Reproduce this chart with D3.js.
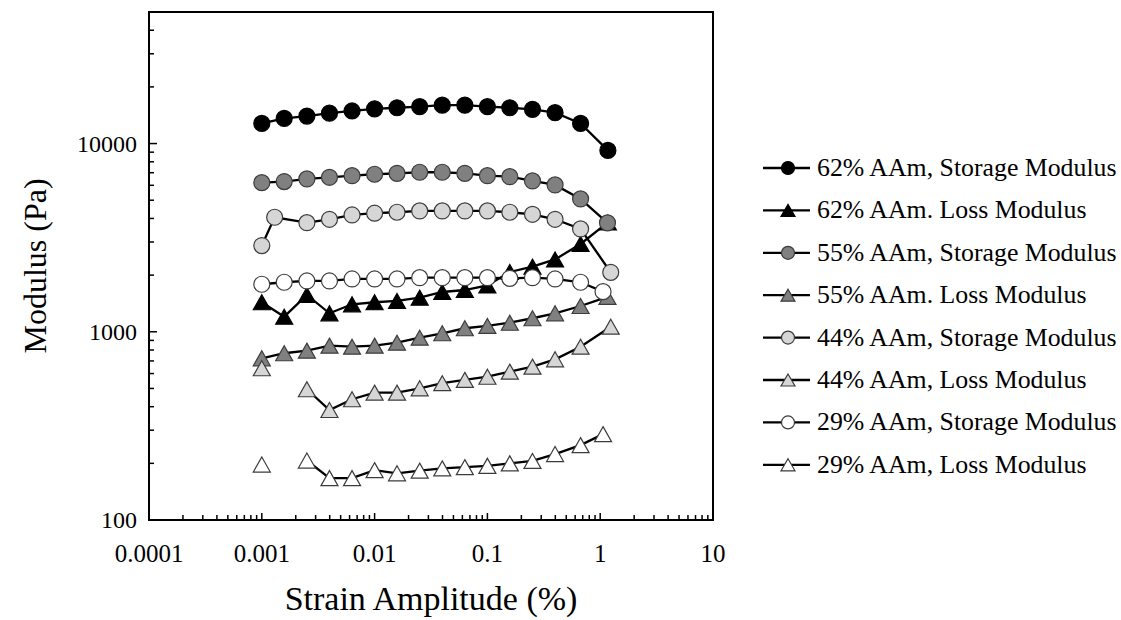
<!DOCTYPE html>
<html>
<head>
<meta charset="utf-8">
<script src="https://cdn.jsdelivr.net/npm/d3@7/dist/d3.min.js"></script>
<style>
  body { margin: 0; background: #fff; }
  svg text { font-family: "Liberation Serif", "Times New Roman", "DejaVu Serif", serif; fill: #000; }
</style>
</head>
<body>
<svg id="chart" width="1121" height="620"></svg>
<script>
// strain amplitude (%) for each gel
var strain62 = [0.001, 0.00158, 0.00251, 0.00398, 0.00631, 0.01, 0.0158, 0.0251, 0.0398, 0.0631, 0.1, 0.158, 0.251, 0.398, 0.67, 1.17];
var strain55 = [0.001, 0.00158, 0.00251, 0.00398, 0.00631, 0.01, 0.0158, 0.0251, 0.0398, 0.0631, 0.1, 0.158, 0.251, 0.398, 0.67, 1.16];
var strain44 = [0.001, 0.0013, 0.00251, 0.00398, 0.00631, 0.01, 0.0158, 0.0251, 0.0398, 0.0631, 0.1, 0.158, 0.251, 0.398, 0.67, 1.24];
var strain29 = [0.001, 0.00158, 0.00251, 0.00398, 0.00631, 0.01, 0.0158, 0.0251, 0.0398, 0.0631, 0.1, 0.158, 0.251, 0.398, 0.67, 1.06];

// moduli (Pa); null = missing reading
var storage62 = [12800, 13600, 14000, 14500, 14900, 15300, 15500, 15700, 16000, 16000, 15700, 15500, 15200, 14600, 12800, 9200];
var loss62 = [1435, 1203, 1569, 1254, 1400, 1435, 1458, 1518, 1627, 1667, 1762, 2078, 2218, 2423, 2928, 3809];
var storage55 = [6200, 6280, 6490, 6620, 6750, 6870, 6950, 7040, 7040, 6950, 6750, 6670, 6330, 6030, 5080, 3790];
var loss55 = [723, 769, 794, 844, 833, 844, 875, 930, 982, 1044, 1074, 1117, 1180, 1254, 1371, 1531];
var storage44 = [2870, 4060, 3800, 3960, 4175, 4265, 4315, 4385, 4385, 4385, 4385, 4315, 4210, 3960, 3520, 2070];
var loss44 = [640, null, 495, 384, 438, 475, 475, 501, 533, 555, 577, 614, 653, 714, 833, 1064];
var storage29 = [1789, 1833, 1862, 1862, 1908, 1908, 1908, 1939, 1939, 1939, 1939, 1923, 1939, 1908, 1833, 1634];
var loss29 = [197, null, 207, 167, 167, 184, 177, 183, 188, 191, 194, 200, 206, 224, 250, 286];

var seriesNames = [
  '62% AAm, Storage Modulus', '62% AAm. Loss Modulus',
  '55% AAm, Storage Modulus', '55% AAm. Loss Modulus',
  '44% AAm, Storage Modulus', '44% AAm, Loss Modulus',
  '29% AAm, Storage Modulus', '29% AAm, Loss Modulus'
];
var xTickLabels = ['0.0001', '0.001', '0.01', '0.1', '1', '10'];
var yTickLabels = ['100', '1000', '10000'];

(function() {
  var series = [
    {name: seriesNames[0], x: strain62, y: storage62, shape: 'circle', fill: '#000', stroke: '#000'},
    {name: seriesNames[1], x: strain62, y: loss62, shape: 'triangle', fill: '#000', stroke: '#000'},
    {name: seriesNames[2], x: strain55, y: storage55, shape: 'circle', fill: '#808080', stroke: '#3c3c3c'},
    {name: seriesNames[3], x: strain55, y: loss55, shape: 'triangle', fill: '#808080', stroke: '#3c3c3c'},
    {name: seriesNames[4], x: strain44, y: storage44, shape: 'circle', fill: '#d6d6d6', stroke: '#3c3c3c'},
    {name: seriesNames[5], x: strain44, y: loss44, shape: 'triangle', fill: '#d6d6d6', stroke: '#3c3c3c'},
    {name: seriesNames[6], x: strain29, y: storage29, shape: 'circle', fill: '#fff', stroke: '#3c3c3c'},
    {name: seriesNames[7], x: strain29, y: loss29, shape: 'triangle', fill: '#fff', stroke: '#3c3c3c'}
  ];

  var svg = d3.select('#chart');
  var plotLeft = 149, plotRight = 713, plotTop = 12, plotBottom = 520;

  var x = d3.scaleLog().domain([0.0001, 10]).range([plotLeft, plotRight]);
  var y = d3.scaleLog().domain([100, 50000]).range([plotBottom, plotTop]);

  // minor + major tick positions for each decade
  function logTicks(lo, hi) {
    var out = [];
    for (var p = lo; p <= hi; p++) {
      for (var m = 1; m <= 9; m++) {
        out.push(m * Math.pow(10, p));
      }
    }
    return out;
  }
  function isMajor(v) {
    var l = Math.log10(v);
    return Math.abs(l - Math.round(l)) < 1e-9;
  }

  var xTicks = logTicks(-4, 0).concat([10]);
  var yTicks = logTicks(2, 4).filter(function(v) { return v <= 50000; });

  // ticks point inward
  svg.append('g').selectAll('line')
    .data(xTicks)
    .enter().append('line')
    .attr('x1', function(d) { return x(d); })
    .attr('x2', function(d) { return x(d); })
    .attr('y1', plotBottom)
    .attr('y2', function(d) { return plotBottom - (isMajor(d) ? 7 : 5); })
    .attr('stroke', '#000')
    .attr('stroke-width', 1.5);

  svg.append('g').selectAll('line')
    .data(yTicks)
    .enter().append('line')
    .attr('y1', function(d) { return y(d); })
    .attr('y2', function(d) { return y(d); })
    .attr('x1', plotLeft)
    .attr('x2', function(d) { return plotLeft + (isMajor(d) ? 8 : 5); })
    .attr('stroke', '#000')
    .attr('stroke-width', 1.5);

  svg.append('rect')
    .attr('x', plotLeft)
    .attr('y', plotTop)
    .attr('width', plotRight - plotLeft)
    .attr('height', plotBottom - plotTop)
    .attr('fill', 'none')
    .attr('stroke', '#000')
    .attr('stroke-width', 2);

  svg.append('g').selectAll('text')
    .data(xTickLabels)
    .enter().append('text')
    .attr('x', function(d) { return x(+d); })
    .attr('y', 562)
    .attr('text-anchor', 'middle')
    .style('font-size', '25px')
    .text(function(d) { return d; });

  svg.append('g').selectAll('text')
    .data(yTickLabels)
    .enter().append('text')
    .attr('x', 137)
    .attr('y', function(d) { return y(+d) + 8; })
    .attr('text-anchor', 'end')
    .style('font-size', '24px')
    .text(function(d) { return d; });

  svg.append('text')
    .attr('x', (plotLeft + plotRight) / 2)
    .attr('y', 610)
    .attr('text-anchor', 'middle')
    .style('font-size', '34px')
    .text('Strain Amplitude (%)');

  svg.append('text')
    .attr('transform', 'translate(46,' + ((plotTop + plotBottom) / 2) + ') rotate(-90)')
    .attr('text-anchor', 'middle')
    .style('font-size', '32px')
    .text('Modulus (Pa)');

  function trianglePath(w, h) {
    return 'M0,' + (-h / 2) + 'L' + (w / 2) + ',' + (h / 2) + 'L' + (-w / 2) + ',' + (h / 2) + 'Z';
  }

  function drawMarker(g, s, size) {
    if (s.shape === 'circle') {
      g.append('circle')
        .attr('r', size.r)
        .attr('fill', s.fill)
        .attr('stroke', s.stroke)
        .attr('stroke-width', 1.2);
    } else {
      g.append('path')
        .attr('d', trianglePath(size.w, size.h))
        .attr('fill', s.fill)
        .attr('stroke', s.stroke)
        .attr('stroke-width', 1.2);
    }
  }

  var line = d3.line()
    .defined(function(d) { return d.v != null; })
    .x(function(d) { return x(d.s); })
    .y(function(d) { return y(d.v); });

  var plot = svg.append('g');
  series.forEach(function(s) {
    var pts = s.x.map(function(sv, i) { return {s: sv, v: s.y[i]}; });
    plot.append('path')
      .attr('d', line(pts))
      .attr('fill', 'none')
      .attr('stroke', '#000')
      .attr('stroke-width', 2.3);
    pts.filter(function(d) { return d.v != null; }).forEach(function(d) {
      var g = plot.append('g').attr('transform', 'translate(' + x(d.s) + ',' + y(d.v) + ')');
      drawMarker(g, s, {r: 8, w: 17, h: 15});
    });
  });

  // legend
  var legend = svg.append('g');
  series.forEach(function(s, i) {
    var cy = 168 + i * 42.4;
    legend.append('line')
      .attr('x1', 763).attr('x2', 810)
      .attr('y1', cy).attr('y2', cy)
      .attr('stroke', '#000')
      .attr('stroke-width', 2.3);
    var g = legend.append('g').attr('transform', 'translate(788,' + cy + ')');
    drawMarker(g, s, {r: 6.5, w: 14, h: 12});
    legend.append('text')
      .attr('x', 817)
      .attr('y', cy + 8)
      .style('font-size', '25.8px')
      .text(s.name);
  });
}());
</script>
</body>
</html>
